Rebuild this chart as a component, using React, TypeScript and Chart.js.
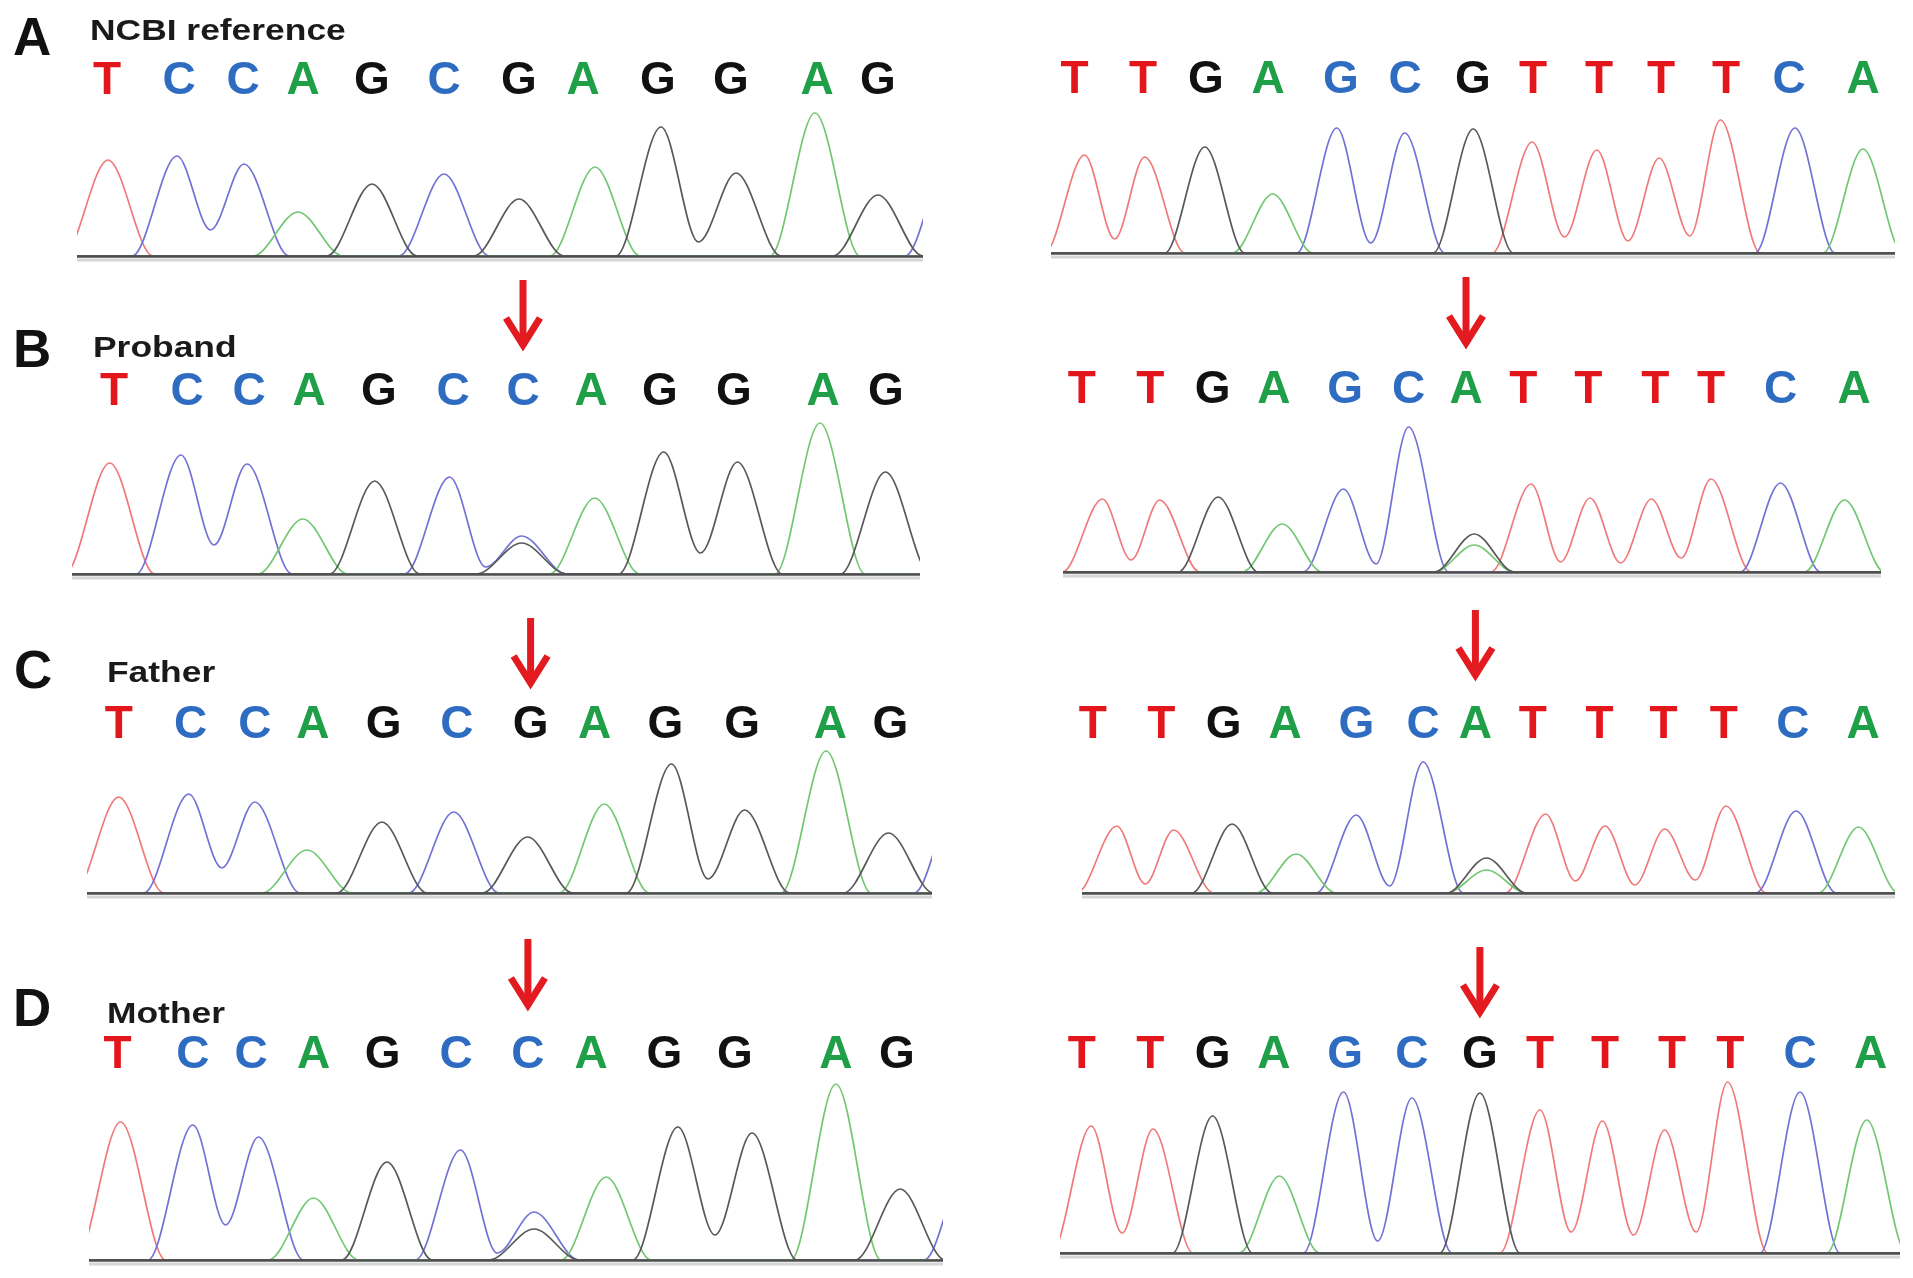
import React, { useEffect, useRef } from "react";
import { Chart, registerables } from "chart.js";

Chart.register(...registerables);

const FONT = "'Liberation Sans', Arial, Helvetica, sans-serif";

// trace colours and base-call colours
const TRACE_COLOR: Record<string, string> = { T: "#f07a7a", C: "#7272d6", A: "#72c872", G: "#585858" };
const CALL_COLOR: Record<string, string> = { T: "#e3161c", C: "#2e6cc2", A: "#1e9f48", G: "#111111" };
const TRACE_ORDER = ["G", "A", "C", "T"];

const PANEL_LETTERS = ["A", "B", "C", "D"];
const PANEL_TITLES = ["NCBI reference", "Proband", "Father", "Mother"];
const VARIANT_INDEX = 6;

// ---------- A: NCBI reference ----------
const REF_L_CALLS = ["T", "C", "C", "A", "G", "C", "G", "A", "G", "G", "A", "G"];
const REF_L_CALL_POS = [30, 102, 166, 226, 295, 367, 442, 506, 581, 654, 740, 801];
const REF_L_PEAK_BASES = ["T", "C", "C", "A", "G", "C", "G", "A", "G", "G", "A", "G", "C"];
const REF_L_PEAK_POS = [31, 100, 167, 221, 295, 367, 442, 518, 584, 659, 738, 801, 873];
const REF_L_PEAK_HEIGHTS = [96, 100, 92, 44, 72, 82, 57, 89, 129, 83, 143, 61, 100];
const REF_L_VALLEYS = [[1, 2, 26], [8, 9, 14]];

const REF_R_CALLS = ["T", "T", "G", "A", "G", "C", "G", "T", "T", "T", "T", "C", "A"];
const REF_R_CALL_COLORS = ["T", "T", "G", "A", "C", "C", "G", "T", "T", "T", "T", "C", "A"];
const REF_R_CALL_POS = [23.5, 92, 155, 217, 290, 354, 422, 482, 548, 610, 675, 738, 812];
const REF_R_PEAK_BASES = ["T", "T", "G", "A", "C", "C", "G", "T", "T", "T", "T", "C", "A"];
const REF_R_PEAK_POS = [33.5, 93.7, 153.8, 221.7, 285.8, 353.7, 422.2, 481.2, 545.8, 608.2, 669.4, 744, 812];
const REF_R_PEAK_HEIGHTS = [98, 96, 106, 59, 125, 120, 124, 111, 103, 95, 133, 125, 104];
const REF_R_VALLEYS = [[0, 1, 14], [4, 5, 10], [7, 8, 16], [8, 9, 12], [9, 10, 17]];

// ---------- B: Proband ----------
const PRO_L_CALLS = ["T", "C", "C", "A", "G", "C", "C", "A", "G", "G", "A", "G"];
const PRO_L_CALL_POS = [42, 115, 177, 237, 307, 381, 451, 519, 588, 662, 751, 814];
const PRO_L_PEAK_BASES = ["T", "C", "C", "A", "G", "C", "C", "G", "A", "G", "G", "A", "G"];
const PRO_L_PEAK_POS = [37.7, 109, 175, 230.8, 302.7, 377.6, 449.6, 449.6, 522.7, 591.7, 665.4, 748, 813.5];
const PRO_L_PEAK_HEIGHTS = [111, 119, 110, 55, 93, 97, 38, 31, 76, 122, 112, 151, 102];
const PRO_L_VALLEYS = [[1, 2, 29], [5, 6, 7], [9, 10, 21]];

const PRO_R_CALLS = ["T", "T", "G", "A", "G", "C", "A", "T", "T", "T", "T", "C", "A"];
const PRO_R_CALL_COLORS = ["T", "T", "G", "A", "C", "C", "A", "T", "T", "T", "T", "C", "A"];
const PRO_R_CALL_POS = [18.8, 87.2, 149.6, 210.9, 282.1, 345.6, 403, 460.3, 525.4, 592.3, 648, 717.5, 791];
const PRO_R_PEAK_BASES = ["T", "T", "G", "A", "C", "C", "G", "A", "T", "T", "T", "T", "C", "A"];
const PRO_R_PEAK_POS = [39.4, 96.7, 155.2, 219.2, 280.5, 345.6, 411.3, 411.3, 468.1, 527, 588.4, 648, 717.5, 781.6];
const PRO_R_PEAK_HEIGHTS = [73, 72, 75, 48, 83, 145, 38, 27, 88, 74, 73, 93, 89, 72];
const PRO_R_VALLEYS = [[0, 1, 12], [4, 5, 8], [8, 9, 10], [9, 10, 9], [10, 11, 14]];

// ---------- C: Father ----------
const FAT_L_CALLS = ["T", "C", "C", "A", "G", "C", "G", "A", "G", "G", "A", "G"];
const FAT_L_CALL_POS = [31.7, 103.6, 167.8, 225.9, 296.7, 369.8, 443.6, 507.7, 578.5, 655.2, 743.3, 803.3];
const FAT_L_PEAK_BASES = ["T", "C", "C", "A", "G", "C", "G", "A", "G", "G", "A", "G", "C"];
const FAT_L_PEAK_POS = [31.7, 101.8, 167.8, 220, 294.9, 366.8, 440.6, 517.3, 584.5, 657.6, 739.1, 801.5, 872];
const FAT_L_PEAK_HEIGHTS = [96, 99, 91, 43, 71, 81, 56, 89, 129, 83, 142, 60, 100];
const FAT_L_VALLEYS = [[1, 2, 25], [8, 9, 14]];

const FAT_R_CALLS = ["T", "T", "G", "A", "G", "C", "A", "T", "T", "T", "T", "C", "A"];
const FAT_R_CALL_COLORS = ["T", "T", "G", "A", "C", "C", "A", "T", "T", "T", "T", "C", "A"];
const FAT_R_CALL_POS = [10.9, 79.4, 141.7, 203, 274.3, 341.1, 393.4, 450.8, 517.6, 581.6, 641.7, 710.8, 781];
const FAT_R_PEAK_BASES = ["T", "T", "G", "A", "C", "C", "G", "A", "T", "T", "T", "T", "C", "A"];
const FAT_R_PEAK_POS = [34.8, 91.6, 150.1, 214.1, 274.3, 341.1, 404.5, 404.5, 463.6, 523.1, 582.7, 644, 714.1, 776.5];
const FAT_R_PEAK_HEIGHTS = [67, 63, 69, 39, 78, 131, 35, 23, 79, 67, 64, 87, 82, 66];
const FAT_R_VALLEYS = [[0, 1, 9], [4, 5, 7], [8, 9, 12], [9, 10, 8], [10, 11, 13]];

// ---------- D: Mother ----------
const MOT_L_CALLS = ["T", "C", "C", "A", "G", "C", "C", "A", "G", "G", "A", "G"];
const MOT_L_CALL_POS = [28.6, 103.9, 162, 224.5, 293.7, 367.2, 438.9, 502, 575.4, 645.8, 746.9, 808];
const MOT_L_PEAK_BASES = ["T", "C", "C", "A", "G", "C", "C", "G", "A", "G", "G", "A", "G", "C"];
const MOT_L_PEAK_POS = [31.6, 103.9, 169.4, 224.5, 298, 371.5, 445, 445, 517.2, 588.9, 663, 746.9, 811.2, 880];
const MOT_L_PEAK_HEIGHTS = [138, 135, 123, 62, 98, 110, 48, 31, 83, 133, 127, 176, 71, 100];
const MOT_L_VALLEYS = [[1, 2, 35], [5, 6, 7], [9, 10, 25]];

const MOT_R_CALLS = ["T", "T", "G", "A", "G", "C", "G", "T", "T", "T", "T", "C", "A"];
const MOT_R_CALL_COLORS = ["T", "T", "G", "A", "C", "C", "G", "T", "T", "T", "T", "C", "A"];
const MOT_R_CALL_POS = [21.8, 90.2, 152.6, 213.9, 285.1, 351.9, 419.9, 480, 545.1, 612, 670.4, 740, 810.7];
const MOT_R_PEAK_BASES = ["T", "T", "G", "A", "C", "C", "G", "T", "T", "T", "T", "C", "A"];
const MOT_R_PEAK_POS = [31.2, 93, 152.6, 219.4, 283.5, 351.9, 419.9, 480, 542.4, 604.7, 667.6, 740, 806.8];
const MOT_R_PEAK_HEIGHTS = [127, 124, 137, 77, 161, 155, 160, 143, 132, 123, 171, 161, 133];
const MOT_R_VALLEYS = [[0, 1, 20], [4, 5, 12], [7, 8, 21], [8, 9, 18], [9, 10, 21]];

type Spec = {
  calls: string[];
  callColors: string[];
  callPos: number[];
  peakBases: string[];
  peakPos: number[];
  peakHeights: number[];
  valleys: number[][];
};
type Layout = {
  left: number;
  width: number;
  letterY: number;
  baseY: number;
  hw: number;
  arrow?: { top: number; tip: number };
};

const SPECS: Spec[] = [
  { calls: REF_L_CALLS, callColors: REF_L_CALLS, callPos: REF_L_CALL_POS, peakBases: REF_L_PEAK_BASES, peakPos: REF_L_PEAK_POS, peakHeights: REF_L_PEAK_HEIGHTS, valleys: REF_L_VALLEYS },
  { calls: REF_R_CALLS, callColors: REF_R_CALL_COLORS, callPos: REF_R_CALL_POS, peakBases: REF_R_PEAK_BASES, peakPos: REF_R_PEAK_POS, peakHeights: REF_R_PEAK_HEIGHTS, valleys: REF_R_VALLEYS },
  { calls: PRO_L_CALLS, callColors: PRO_L_CALLS, callPos: PRO_L_CALL_POS, peakBases: PRO_L_PEAK_BASES, peakPos: PRO_L_PEAK_POS, peakHeights: PRO_L_PEAK_HEIGHTS, valleys: PRO_L_VALLEYS },
  { calls: PRO_R_CALLS, callColors: PRO_R_CALL_COLORS, callPos: PRO_R_CALL_POS, peakBases: PRO_R_PEAK_BASES, peakPos: PRO_R_PEAK_POS, peakHeights: PRO_R_PEAK_HEIGHTS, valleys: PRO_R_VALLEYS },
  { calls: FAT_L_CALLS, callColors: FAT_L_CALLS, callPos: FAT_L_CALL_POS, peakBases: FAT_L_PEAK_BASES, peakPos: FAT_L_PEAK_POS, peakHeights: FAT_L_PEAK_HEIGHTS, valleys: FAT_L_VALLEYS },
  { calls: FAT_R_CALLS, callColors: FAT_R_CALL_COLORS, callPos: FAT_R_CALL_POS, peakBases: FAT_R_PEAK_BASES, peakPos: FAT_R_PEAK_POS, peakHeights: FAT_R_PEAK_HEIGHTS, valleys: FAT_R_VALLEYS },
  { calls: MOT_L_CALLS, callColors: MOT_L_CALLS, callPos: MOT_L_CALL_POS, peakBases: MOT_L_PEAK_BASES, peakPos: MOT_L_PEAK_POS, peakHeights: MOT_L_PEAK_HEIGHTS, valleys: MOT_L_VALLEYS },
  { calls: MOT_R_CALLS, callColors: MOT_R_CALL_COLORS, callPos: MOT_R_CALL_POS, peakBases: MOT_R_PEAK_BASES, peakPos: MOT_R_PEAK_POS, peakHeights: MOT_R_PEAK_HEIGHTS, valleys: MOT_R_VALLEYS },
];

// peak foot half-width (hw) in scan units per panel
const LAYOUTS: Layout[] = [
  { left: 77, width: 846, letterY: 80.5, baseY: 256, hw: 45 },
  { left: 1051, width: 844, letterY: 79.5, baseY: 253, hw: 40 },
  { left: 72, width: 848, letterY: 392, baseY: 574, hw: 45, arrow: { top: 280, tip: 352 } },
  { left: 1063, width: 818, letterY: 389.5, baseY: 572, hw: 40, arrow: { top: 277, tip: 350 } },
  { left: 87, width: 845, letterY: 725, baseY: 893, hw: 45, arrow: { top: 618, tip: 690 } },
  { left: 1082, width: 813, letterY: 725, baseY: 893, hw: 40, arrow: { top: 610, tip: 682 } },
  { left: 89, width: 854, letterY: 1054.5, baseY: 1260, hw: 45, arrow: { top: 939, tip: 1012 } },
  { left: 1060, width: 840, letterY: 1054.5, baseY: 1253, hw: 40, arrow: { top: 947, tip: 1019 } },
];

const LABEL_POS = [
  { x: 13, base: 55, tx: 90, tbase: 40 },
  { x: 13, base: 367, tx: 93, tbase: 357 },
  { x: 14, base: 688, tx: 107, tbase: 682 },
  { x: 13, base: 1026, tx: 107, tbase: 1023 },
];

const PAD_SIDE = 30;
const PAD_TOP = 100;
const PAD_BOTTOM = 14;
const TICK_PAD = 2;
const CALL_FONT = 46;

function buildTrace(spec: Spec, base: string, hw: number, width: number) {
  const idx = spec.peakBases
    .map((b, i) => (b === base ? i : -1))
    .filter((i) => i >= 0)
    .sort((a, b) => spec.peakPos[a] - spec.peakPos[b]);
  const pts: { x: number; y: number }[] = [{ x: -300, y: 0 }];
  idx.forEach((i) => {
    const c = spec.peakPos[i];
    const h = spec.peakHeights[i];
    const lv = spec.valleys.find((v) => v[1] === i);
    const rv = spec.valleys.find((v) => v[0] === i);
    if (!lv) pts.push({ x: c - hw, y: 0 });
    pts.push({ x: c, y: h });
    if (rv) pts.push({ x: (c + spec.peakPos[rv[1]]) / 2, y: rv[2] });
    else pts.push({ x: c + hw, y: 0 });
  });
  pts.push({ x: width + 300, y: 0 });
  pts.sort((a, b) => a.x - b.x);
  return pts;
}

const decorPlugin = {
  id: "chromaDecor",
  afterDatasetsDraw(chart: any, _args: any, opts: any) {
    const { ctx, chartArea } = chart;
    const y = chart.scales.y.getPixelForValue(0);
    ctx.save();
    ctx.lineCap = "butt";
    ctx.strokeStyle = "#d6d6d6";
    ctx.lineWidth = 3;
    ctx.beginPath();
    ctx.moveTo(chartArea.left, y + 4);
    ctx.lineTo(chartArea.right, y + 4);
    ctx.stroke();
    ctx.strokeStyle = "#4e4e4e";
    ctx.lineWidth = 2.5;
    ctx.beginPath();
    ctx.moveTo(chartArea.left, y + 0.5);
    ctx.lineTo(chartArea.right, y + 0.5);
    ctx.stroke();
    if (opts && opts.arrow) {
      const x = chart.scales.x.getPixelForValue(opts.arrow.value);
      const top = opts.arrow.top;
      const tip = opts.arrow.tip;
      ctx.strokeStyle = "#e31b20";
      ctx.lineWidth = 7;
      ctx.beginPath();
      ctx.moveTo(x, top);
      ctx.lineTo(x, tip - 6);
      ctx.stroke();
      ctx.lineJoin = "miter";
      ctx.beginPath();
      ctx.moveTo(x - 17, tip - 34);
      ctx.lineTo(x, tip - 7);
      ctx.lineTo(x + 17, tip - 34);
      ctx.stroke();
    }
    ctx.restore();
  },
};

function Panel({ spec, layout }: { spec: Spec; layout: Layout }) {
  const ref = useRef<HTMLCanvasElement | null>(null);
  const canvasTop = Math.round(layout.letterY - CALL_FONT / 2 - TICK_PAD - PAD_TOP);
  const canvasLeft = layout.left - PAD_SIDE;
  const canvasW = layout.width + PAD_SIDE * 2;
  const baseY = Math.round(layout.baseY);
  const canvasH = baseY - canvasTop + PAD_BOTTOM;
  const chartTop = canvasTop + PAD_TOP + CALL_FONT + 2 * TICK_PAD;
  const yMax = baseY - chartTop;

  useEffect(() => {
    if (!ref.current) return;
    const datasets = TRACE_ORDER.map((b) => ({
      label: b,
      data: buildTrace(spec, b, layout.hw, layout.width),
      borderColor: TRACE_COLOR[b],
      borderWidth: 1.7,
      pointRadius: 0,
      fill: false,
      cubicInterpolationMode: "monotone" as const,
      clip: { left: 0, right: 0, top: 40, bottom: 3 },
    }));
    const arrow = layout.arrow
      ? { value: spec.callPos[VARIANT_INDEX], top: layout.arrow.top - canvasTop, tip: layout.arrow.tip - canvasTop }
      : null;
    const chart = new Chart(ref.current, {
      type: "line",
      data: { datasets },
      plugins: [decorPlugin],
      options: {
        responsive: false,
        animation: false,
        events: [],
        layout: { padding: { left: PAD_SIDE, right: PAD_SIDE, top: PAD_TOP, bottom: PAD_BOTTOM } },
        plugins: {
          legend: { display: false },
          tooltip: { enabled: false },
          chromaDecor: { arrow },
        } as any,
        scales: {
          x: {
            type: "linear",
            position: "top",
            min: 0,
            max: layout.width,
            grid: { display: false, drawTicks: false },
            border: { display: false },
            afterBuildTicks: (axis: any) => {
              axis.ticks = spec.callPos.map((v) => ({ value: v }));
            },
            ticks: {
              autoSkip: false,
              maxRotation: 0,
              minRotation: 0,
              padding: TICK_PAD,
              font: { family: FONT, size: CALL_FONT, weight: "bold", lineHeight: 1 },
              color: (ctx: any) => CALL_COLOR[spec.callColors[ctx.index]] || "#111",
              callback: (_v: any, i: number) => spec.calls[i],
            },
          },
          y: { display: false, min: 0, max: yMax },
        },
      } as any,
    });
    return () => chart.destroy();
  }, []);

  return (
    <canvas
      ref={ref}
      width={canvasW}
      height={canvasH}
      style={{ position: "absolute", left: canvasLeft, top: canvasTop, width: canvasW, height: canvasH }}
    />
  );
}

export default function App() {
  return (
    <div
      style={{
        position: "absolute",
        left: 0,
        top: 0,
        width: 1913,
        height: 1278,
        background: "#ffffff",
        overflow: "hidden",
        fontFamily: FONT,
      }}
    >
      {SPECS.map((s, i) => (
        <Panel key={i} spec={s} layout={LAYOUTS[i]} />
      ))}
      {PANEL_LETTERS.map((l, i) => (
        <div
          key={"l" + i}
          style={{
            position: "absolute",
            left: LABEL_POS[i].x,
            top: LABEL_POS[i].base - 0.8465 * 53,
            fontSize: 53,
            lineHeight: "53px",
            fontWeight: "bold",
            color: "#111",
            whiteSpace: "nowrap",
          }}
        >
          {l}
        </div>
      ))}
      {PANEL_TITLES.map((t, i) => (
        <div
          key={"t" + i}
          style={{
            position: "absolute",
            left: LABEL_POS[i].tx,
            top: LABEL_POS[i].tbase - 0.8465 * 30,
            fontSize: 30,
            lineHeight: "30px",
            fontWeight: "bold",
            color: "#1a1a1a",
            whiteSpace: "nowrap",
            transform: "scaleX(1.18)",
            transformOrigin: "0 0",
          }}
        >
          {t}
        </div>
      ))}
    </div>
  );
}
